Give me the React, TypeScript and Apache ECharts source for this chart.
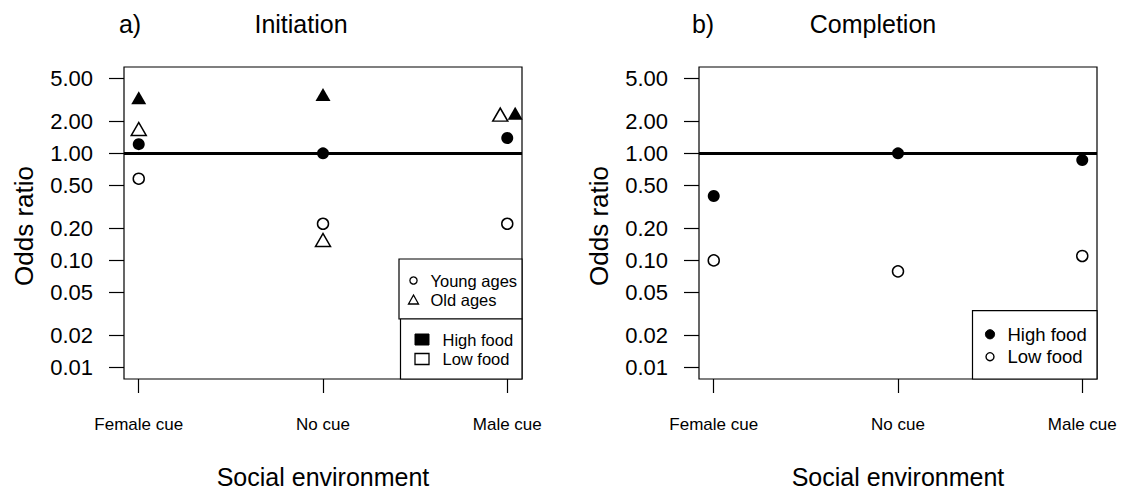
import React, { useEffect, useRef } from "react";
import * as echarts from "echarts";

// ---- data ----
const categories = ["Female cue", "No cue", "Male cue"];
const catPos = [1, 2, 3];
const tickValues = [0.01, 0.02, 0.05, 0.1, 0.2, 0.5, 1, 2, 5];

// a) Initiation
const initYoungHigh = [1.22, 1.0, 1.39];
const initYoungLow = [0.58, 0.22, 0.22];
const initOldHigh = [3.3, 3.54, 2.37];
const initOldLow = [1.69, 0.155, 2.3];
const initOldHighPos = [1, 2, 3.043];
const initOldLowPos = [1, 2, 2.962];

// b) Completion
const compHigh = [0.4, 1.0, 0.865];
const compLow = [0.1, 0.079, 0.11];

const FONT = "'Liberation Sans', Arial, Helvetica, sans-serif";
const L = Math.log10;
const ySpan = L(5) - L(0.01);
const yMin = L(0.01) - 0.04 * ySpan;
const yMax = L(5) + 0.04 * ySpan;
const logTicks = tickValues.map((v) => L(v));

const toData = (pos: number[], vals: number[]) => pos.map((x, i) => [x, L(vals[i])]);

function xAxisFor(gi: number) {
  return {
    type: "value",
    gridIndex: gi,
    position: "bottom",
    min: 0.92,
    max: 3.08,
    axisLine: { show: false, onZero: false },
    splitLine: { show: false },
    axisTick: { show: true, length: 14, customValues: catPos, lineStyle: { color: "#000", width: 1.2 } },
    axisLabel: {
      customValues: catPos,
      formatter: (v: number) => categories[Math.round(v) - 1],
      margin: 37,
      fontSize: 17,
      color: "#000",
      fontFamily: FONT,
    },
  };
}

function yAxisFor(gi: number) {
  return {
    type: "value",
    gridIndex: gi,
    position: "left",
    min: yMin,
    max: yMax,
    axisLine: { show: false, onZero: false },
    splitLine: { show: false },
    axisTick: { show: true, length: 15, customValues: logTicks, lineStyle: { color: "#000", width: 1.2 } },
    axisLabel: {
      customValues: logTicks,
      formatter: (v: number) => Math.pow(10, v).toFixed(2),
      margin: 31,
      fontSize: 22,
      color: "#000",
      fontFamily: FONT,
    },
  };
}

const filled = (size: any) => ({ symbolSize: size, itemStyle: { color: "#000", opacity: 1 } });
const open = (size: any) => ({
  symbolSize: size,
  itemStyle: { color: "#fff", borderColor: "#000", borderWidth: 1.5, opacity: 1 },
});

const refLine = {
  silent: true,
  symbol: ["none", "none"],
  label: { show: false },
  lineStyle: { color: "#000", width: 3, type: "solid" },
  data: [{ yAxis: 0 }],
};

const txt = (text: string, x: number, y: number, size: number, align = "center", extra: any = {}) => ({
  type: "text",
  x,
  y,
  ...extra,
  style: { text, fill: "#000", font: `${size}px ${FONT}`, align, verticalAlign: "middle" },
});

export default function App() {
  const ref = useRef<HTMLDivElement>(null);
  useEffect(() => {
    if (!ref.current) return;
    const chart = echarts.init(ref.current, null, { renderer: "svg" });
    const gridStyle = { show: true, borderColor: "#000", borderWidth: 1.2, backgroundColor: "transparent" };
    const option: any = {
      animation: false,
      backgroundColor: "#fff",
      grid: [
        { left: 124, top: 67, width: 398, height: 312, ...gridStyle },
        { left: 699, top: 67, width: 398, height: 312, ...gridStyle },
      ],
      xAxis: [xAxisFor(0), xAxisFor(1)],
      yAxis: [yAxisFor(0), yAxisFor(1)],
      series: [
        {
          type: "scatter", xAxisIndex: 0, yAxisIndex: 0, symbol: "circle", ...filled(12),
          data: toData(catPos, initYoungHigh), markLine: refLine, z: 3,
        },
        { type: "scatter", xAxisIndex: 0, yAxisIndex: 0, symbol: "circle", ...open(11), data: toData(catPos, initYoungLow), z: 3 },
        { type: "scatter", xAxisIndex: 0, yAxisIndex: 0, symbol: "triangle", ...open([15, 13]), data: toData(initOldLowPos, initOldLow), z: 3 },
        { type: "scatter", xAxisIndex: 0, yAxisIndex: 0, symbol: "triangle", ...filled([15, 13]), data: toData(initOldHighPos, initOldHigh), z: 3 },
        {
          type: "scatter", xAxisIndex: 1, yAxisIndex: 1, symbol: "circle", ...filled(12),
          data: toData(catPos, compHigh), markLine: refLine, z: 3,
        },
        { type: "scatter", xAxisIndex: 1, yAxisIndex: 1, symbol: "circle", ...open(11), data: toData(catPos, compLow), z: 3 },
      ],
      graphic: [
        // titles
        txt("a)", 130, 24, 25),
        txt("Initiation", 301, 24, 25),
        txt("b)", 703, 24, 25),
        txt("Completion", 873, 24, 25),
        // axis titles
        txt("Odds ratio", 24, 226, 26, "center", { rotation: Math.PI / 2 }),
        txt("Odds ratio", 599, 226, 26, "center", { rotation: Math.PI / 2 }),
        txt("Social environment", 323, 477, 25),
        txt("Social environment", 898, 477, 25),
        // left legend 1
        { type: "rect", shape: { x: 399, y: 259, width: 123, height: 60 }, style: { fill: "#fff", stroke: "#000", lineWidth: 1.2 }, z: 10 },
        { type: "circle", shape: { cx: 413.5, cy: 280.5, r: 3.6 }, style: { fill: "#fff", stroke: "#000", lineWidth: 1.3 }, z: 11 },
        { type: "polygon", shape: { points: [[413.5, 295], [418.5, 304], [408.5, 304]] }, style: { fill: "#fff", stroke: "#000", lineWidth: 1.3 }, z: 11 },
        { ...txt("Young ages", 430.5, 280.5, 16.5, "left"), z: 11 },
        { ...txt("Old ages", 430.5, 300, 16.5, "left"), z: 11 },
        // left legend 2
        { type: "rect", shape: { x: 400.5, y: 319, width: 121.5, height: 60 }, style: { fill: "#fff", stroke: "#000", lineWidth: 1.2 }, z: 10 },
        { type: "rect", shape: { x: 415, y: 334, width: 14, height: 11 }, style: { fill: "#000", stroke: "#000", lineWidth: 1 }, z: 11 },
        { type: "rect", shape: { x: 415, y: 353.5, width: 14, height: 11 }, style: { fill: "#fff", stroke: "#000", lineWidth: 1.3 }, z: 11 },
        { ...txt("High food", 442.5, 339.5, 16.5, "left"), z: 11 },
        { ...txt("Low food", 442.5, 359, 16.5, "left"), z: 11 },
        // right legend
        { type: "rect", shape: { x: 972.5, y: 310.7, width: 124.5, height: 68.3 }, style: { fill: "#fff", stroke: "#000", lineWidth: 1.2 }, z: 10 },
        { type: "circle", shape: { cx: 990, cy: 334.3, r: 4.6 }, style: { fill: "#000", stroke: "#000", lineWidth: 1 }, z: 11 },
        { type: "circle", shape: { cx: 990, cy: 356.7, r: 4 }, style: { fill: "#fff", stroke: "#000", lineWidth: 1.4 }, z: 11 },
        { ...txt("High food", 1007.5, 334.3, 18.5, "left"), z: 11 },
        { ...txt("Low food", 1007.5, 356.7, 18.5, "left"), z: 11 },
      ],
    };
    chart.setOption(option);
    return () => chart.dispose();
  }, []);
  return (
    <div
      ref={ref}
      style={{ position: "fixed", left: 0, top: 0, width: 1125, height: 495, background: "#fff" }}
    />
  );
}
